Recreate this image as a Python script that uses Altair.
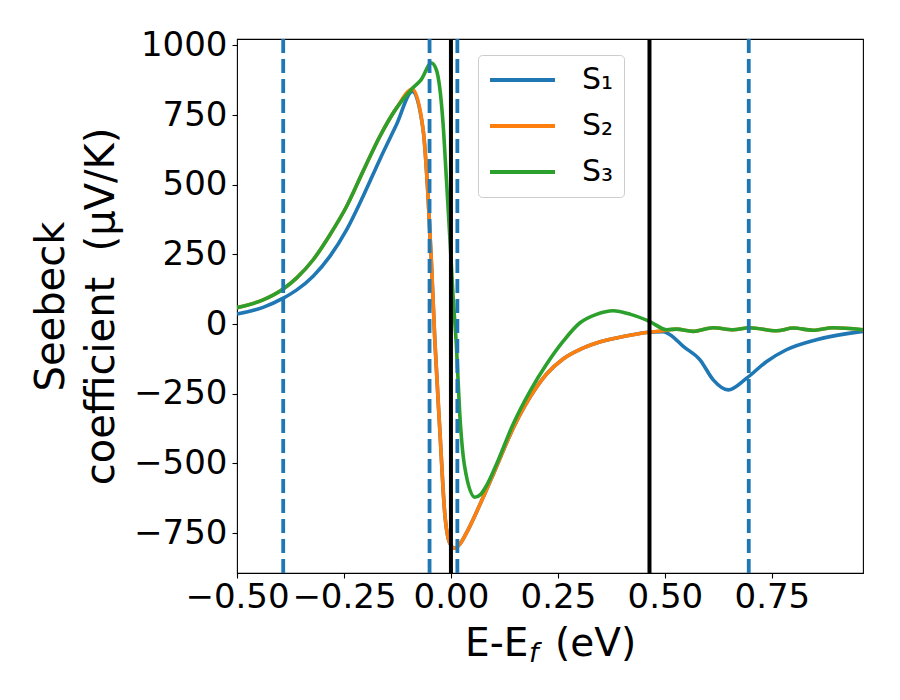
import altair as alt
import pandas as pd

# ---------------- data ----------------
series_names = ["S₁", "S₂", "S₃"]
series_colors = ["#1f77b4", "#ff7f0e", "#2ca02c"]

x_s1 = [-0.5, -0.439, -0.392, -0.361, -0.322, -0.283, -0.244, -0.2055, -0.1664, -0.1274,
        -0.09, -0.065, -0.0535, -0.0456, -0.0379, -0.026, -0.0145, -0.0027, 0.0088, 0.0205,
        0.04, 0.067, 0.1, 0.145, 0.185, 0.223, 0.262, 0.30, 0.34, 0.418, 0.457, 0.496, 0.512,
        0.543, 0.582, 0.613, 0.648, 0.691, 0.738, 0.784, 0.854, 0.963]
y_s1 = [36, 60, 93, 122, 172, 243, 338, 458, 590, 715,
        835, 697, 458, 220, -50, -379, -678, -786, -804, -790,
        -738, -650, -535, -375, -262, -180, -125, -92, -68, -40, -30, -27, -38,
        -80, -128, -200, -236, -194, -134, -92, -56, -26]

x_s2 = [-0.5, -0.439, -0.392, -0.361, -0.322, -0.283, -0.244, -0.2055, -0.1664, -0.1274,
        -0.09, -0.065, -0.0535, -0.0456, -0.0379, -0.026, -0.0145, -0.0027, 0.0088, 0.0205,
        0.04, 0.067, 0.1, 0.145, 0.185, 0.223, 0.262, 0.30, 0.34, 0.418, 0.457, 0.496, 0.527,
        0.566, 0.613, 0.659, 0.698, 0.761, 0.800, 0.846, 0.893, 0.963]
y_s2 = [59, 87, 126, 165, 231, 320, 422, 548, 673, 775,
        843, 697, 458, 220, -50, -379, -678, -786, -804, -790,
        -738, -650, -535, -375, -262, -180, -125, -92, -68, -40, -30, -24, -18,
        -26, -13, -20, -13, -24, -14, -22, -13, -20]

x_s3 = [-0.5, -0.439, -0.392, -0.361, -0.322, -0.283, -0.244, -0.2055, -0.1664, -0.1274,
        -0.092, -0.07, -0.0456, -0.034, -0.0185, -0.0105, -0.0027, 0.005, 0.0128, 0.0205,
        0.032, 0.0557, 0.07, 0.083, 0.11, 0.145, 0.185, 0.223, 0.262, 0.301, 0.34, 0.379,
        0.42, 0.465, 0.504, 0.527, 0.566, 0.613, 0.659, 0.698, 0.761, 0.800, 0.846, 0.893,
        0.963]
y_s3 = [59, 87, 126, 165, 231, 320, 422, 548, 673, 775,
        843, 876, 937, 912, 721, 518, 314, 99, -80, -319,
        -511, -621, -610, -580, -490, -360, -240, -145, -62, 4, 35, 48,
        35, 9, -20, -18, -26, -13, -20, -13, -24, -14, -22, -13,
        -20]

dashed_x = [-0.392, -0.05, 0.015, 0.696]
solid_x = [0.0, 0.464]

x_ticks = [-0.5, -0.25, 0.0, 0.25, 0.5, 0.75]
y_ticks = [-750, -500, -250, 0, 250, 500, 750, 1000]
x_domain = [-0.5, 0.963]
y_domain = [-893, 1023]

y_title = ["Seebeck", "coefficient\u00a0 (μV/K)"]
x_title_parts = ["E-E", "f", "(eV)"]

# ---------------- chart ----------------
W, H = 626, 534
FONT = "DejaVu Sans"

xscale = alt.Scale(domain=x_domain, nice=False, zero=False)
yscale = alt.Scale(domain=y_domain, nice=False, zero=False)

x_enc = alt.X("E:Q", scale=xscale,
              axis=alt.Axis(values=x_ticks, format=".2f", title=None,
                            labelOverlap=False, labelFlush=False))
y_enc = alt.Y("S:Q", scale=yscale,
              axis=alt.Axis(values=y_ticks, format="d", title=y_title,
                            titleX=-174, titleY=H / 2, titleAlign="center",
                            titleBaseline="alphabetic", titleAngle=270,
                            titleLineHeight=50, labelOverlap=False,
                            labelFlush=False))

color_enc = alt.Color(
    "series:N",
    scale=alt.Scale(domain=series_names, range=series_colors),
    legend=alt.Legend(
        title=None, orient="none", legendX=241, legendY=16,
        symbolType="stroke", symbolSize=4225, symbolStrokeWidth=4,
        labelFont=FONT, labelFontSize=30, labelColor="black", labelOffset=25,
        clipHeight=30, rowPadding=16, padding=10,
        fillColor="rgba(255,255,255,0.8)", strokeColor="#cccccc",
        cornerRadius=4,
    ),
)


def series_df(name, xs, ys):
    return pd.DataFrame({"E": xs, "S": ys, "series": name})


line_layers = []
for name, xs, ys in zip(series_names, [x_s1, x_s2, x_s3], [y_s1, y_s2, y_s3]):
    line_layers.append(
        alt.Chart(series_df(name, xs, ys))
        .mark_line(strokeWidth=3.6, interpolate="monotone", clip=True)
        .encode(x=x_enc, y=y_enc, color=color_enc)
    )

dashed = (
    alt.Chart(pd.DataFrame({"E": dashed_x}))
    .mark_rule(color="#1f77b4", strokeWidth=3.8, strokeDash=[14, 6])
    .encode(x=x_enc)
)
solid = (
    alt.Chart(pd.DataFrame({"E": solid_x}))
    .mark_rule(color="black", strokeWidth=4)
    .encode(x=x_enc)
)

t_main1 = (
    alt.Chart(pd.DataFrame({"t": [x_title_parts[0]]}))
    .mark_text(align="left", baseline="alphabetic", font=FONT, fontSize=39, color="black")
    .encode(text="t:N", x=alt.value(228), y=alt.value(617))
)
t_sub = (
    alt.Chart(pd.DataFrame({"t": [x_title_parts[1]]}))
    .mark_text(align="left", baseline="alphabetic", font=FONT, fontSize=27,
               fontStyle="italic", color="black")
    .encode(text="t:N", x=alt.value(292), y=alt.value(623))
)
t_main2 = (
    alt.Chart(pd.DataFrame({"t": [x_title_parts[2]]}))
    .mark_text(align="left", baseline="alphabetic", font=FONT, fontSize=39, color="black")
    .encode(text="t:N", x=alt.value(318), y=alt.value(617))
)

chart = (
    alt.layer(*line_layers, dashed, solid, t_main1, t_sub, t_main2)
    .properties(
        width=W, height=H,
        autosize=alt.AutoSizeParams(type="none"),
        padding={"left": 229, "top": 31, "right": 20, "bottom": 110},
    )
    .configure_view(stroke="black", strokeWidth=1.1)
    .configure_axis(
        grid=False, domain=False,
        ticks=True, tickColor="black", tickSize=5, tickWidth=1.1,
        labelFont=FONT, labelFontSize=34, labelColor="black",
        titleFont=FONT, titleFontSize=40, titleColor="black", titleFontWeight="normal",
    )
    .configure_axisX(labelPadding=2)
    .configure_axisY(labelPadding=5)
)

chart.save("out.html", embed_options={"renderer": "svg", "actions": False})
